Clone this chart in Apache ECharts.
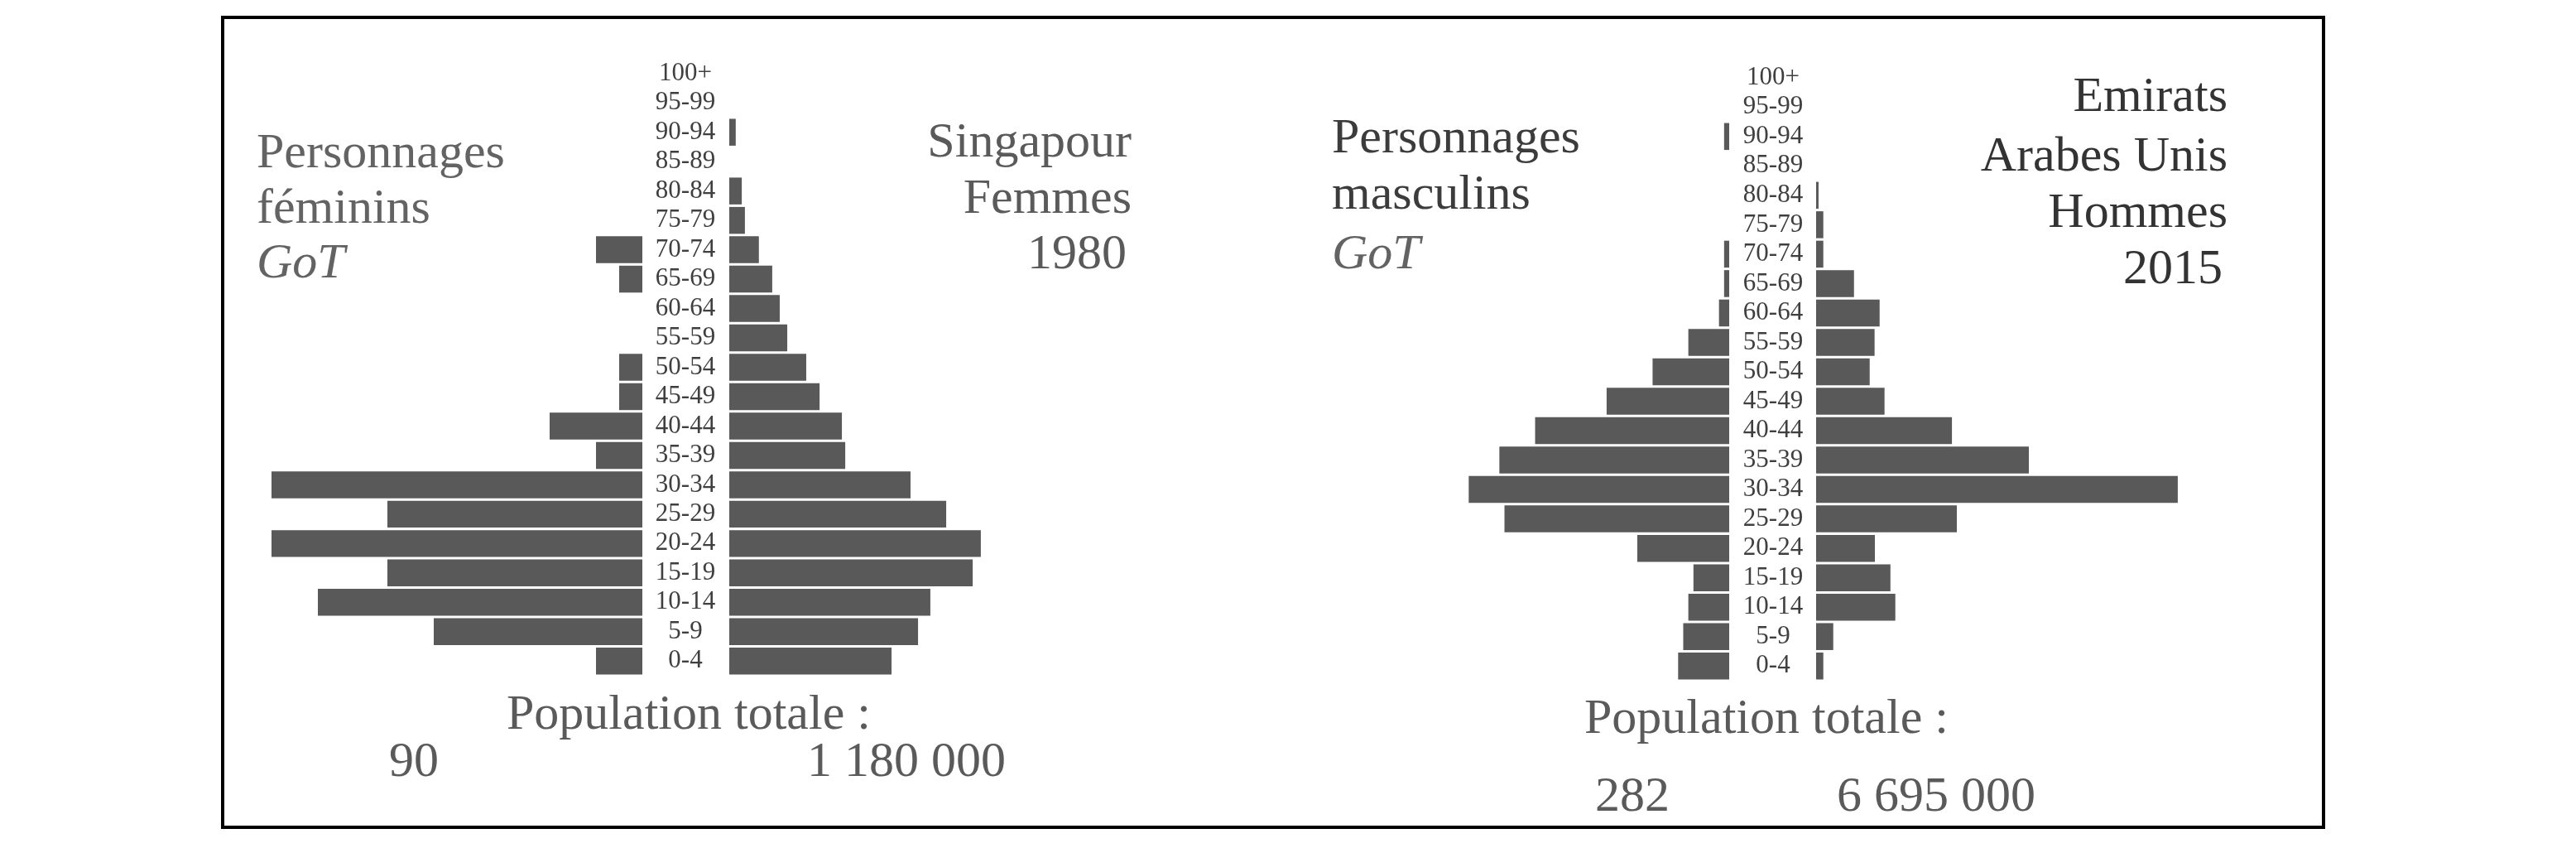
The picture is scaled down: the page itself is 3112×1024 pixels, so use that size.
<!DOCTYPE html>
<html>
<head>
<meta charset="utf-8">
<script src="https://cdn.jsdelivr.net/npm/echarts@6/dist/echarts.min.js"></script>
<style>
html,body{margin:0;padding:0;background:#ffffff;}
#chart{width:3112px;height:1024px;}
</style>
</head>
<body>
<div id="chart"></div>
<script>
// Age groups, bottom to top
const ageGroups = ['0-4','5-9','10-14','15-19','20-24','25-29','30-34','35-39','40-44','45-49','50-54','55-59','60-64','65-69','70-74','75-79','80-84','85-89','90-94','95-99','100+'];

// GoT female characters (counts per age group), total 90
const gotFemaleCounts = [2,9,14,11,16,11,16,2,4,1,1,0,0,1,2,0,0,0,0,0,0];
// Singapore, women, 1980 (% of total)
const singaporeFemale1980 = [7.78,9.05,9.64,11.67,12.06,10.40,8.69,5.56,5.40,4.33,3.69,2.78,2.42,2.06,1.42,0.75,0.60,0,0.31,0,0];

// GoT male characters (counts per age group), total 282
const gotMaleCounts = [10,9,8,7,18,44,51,45,38,24,15,8,2,1,1,0,0,0,1,0,0];
// United Arab Emirates, men, 2015 (% of total)
const uaeMale2015 = [0.50,1.19,5.50,5.16,4.08,9.77,25.11,14.77,9.43,4.75,3.72,4.06,4.41,2.63,0.50,0.50,0.17,0,0,0,0];

// Totals shown under the pyramids
const totalGotFemale = '90';
const totalSingapore = '1 180 000';
const totalGotMale = '282';
const totalUae = '6 695 000';

const sumF = gotFemaleCounts.reduce((a,b)=>a+b,0);
const sumM = gotMaleCounts.reduce((a,b)=>a+b,0);
const gotFemalePct = gotFemaleCounts.map(v => v / sumF * 100);
const gotMalePct = gotMaleCounts.map(v => v / sumM * 100);

const BAR = '#595959';
const SERIF = '"Liberation Serif","Times New Roman",serif';

const chart = echarts.init(document.getElementById('chart'), null, {renderer:'canvas'});

function hiddenX(idx, max, inverse){
  return {type:'value', gridIndex:idx, min:0, max:max, inverse:inverse, show:false};
}
function catY(idx, showLabels, margin){
  return {
    type:'category', gridIndex:idx, data:ageGroups, show:showLabels,
    position:'left',
    axisLine:{show:false}, axisTick:{show:false}, splitLine:{show:false},
    axisLabel:{show:showLabels, interval:0, margin:margin, align:'center',
      fontFamily:SERIF, fontSize:31, color:'#3f3f3f'}
  };
}
function bars(xi, data){
  return {type:'bar', xAxisIndex:xi, yAxisIndex:xi, data:data, barCategoryGap:'8.5%',
    itemStyle:{color:BAR}, silent:true, animation:false};
}
const DY = 5;
function txt(x, y, text, opts){
  opts = opts || {};
  const size = opts.size || 60;
  return {type:'text', silent:true, style:{
    x:x, y:y + DY, text:text,
    font:(opts.italic?'italic ':'') + size + 'px ' + SERIF,
    fill:opts.color || '#5a5a5a',
    textAlign:opts.align || 'left', align:opts.align || 'left',
    textVerticalAlign:'middle', verticalAlign:'middle'
  }};
}

const option = {
  backgroundColor:'#ffffff',
  animation:false,
  grid:[
    {left:272, top:71, width:504, height:745, containLabel:false, outerBoundsMode:'none'},
    {left:881, top:71, width:504, height:745, containLabel:false, outerBoundsMode:'none'},
    {left:1741, top:76, width:348, height:746, containLabel:false, outerBoundsMode:'none'},
    {left:2194, top:76, width:522, height:746, containLabel:false, outerBoundsMode:'none'}
  ],
  xAxis:[hiddenX(0,20,true), hiddenX(1,20,false), hiddenX(2,20,true), hiddenX(3,30,false)],
  yAxis:[catY(0,false,0), catY(1,true,53), catY(2,false,0), catY(3,true,52)],
  series:[
    bars(0, gotFemalePct),
    bars(1, singaporeFemale1980),
    bars(2, gotMalePct),
    bars(3, uaeMale2015)
  ],
  graphic:[
    {type:'rect', silent:true, shape:{x:269, y:21, width:2538, height:978},
     style:{fill:'none', stroke:'#000000', lineWidth:4}},
    // left pyramid
    txt(310, 181, 'Personnages', {color:'#636363'}),
    txt(310, 248, 'féminins', {color:'#636363'}),
    txt(310, 314, 'GoT', {color:'#636363', italic:true}),
    txt(1367, 168, 'Singapour', {color:'#5a5a5a', align:'right'}),
    txt(1367, 236, 'Femmes', {color:'#5a5a5a', align:'right'}),
    txt(1361, 303, '1980', {color:'#5a5a5a', align:'right'}),
    txt(612, 859, 'Population totale :', {color:'#5a5a5a'}),
    txt(470, 916, totalGotFemale, {color:'#5a5a5a'}),
    txt(975, 916, totalSingapore, {color:'#5a5a5a'}),
    // right pyramid
    txt(1609, 163, 'Personnages', {color:'#3c3c3c'}),
    txt(1609, 231, 'masculins', {color:'#3c3c3c'}),
    txt(1609, 303, 'GoT', {color:'#636363', italic:true}),
    txt(2691, 113, 'Emirats', {color:'#333333', align:'right'}),
    txt(2691, 185, 'Arabes Unis', {color:'#333333', align:'right'}),
    txt(2691, 253, 'Hommes', {color:'#333333', align:'right'}),
    txt(2685, 321, '2015', {color:'#333333', align:'right'}),
    txt(1914, 864, 'Population totale :', {color:'#5a5a5a'}),
    txt(1927, 958, totalGotMale, {color:'#5a5a5a'}),
    txt(2219, 958, totalUae, {color:'#5a5a5a'})
  ]
};
chart.setOption(option);
</script>
</body>
</html>
